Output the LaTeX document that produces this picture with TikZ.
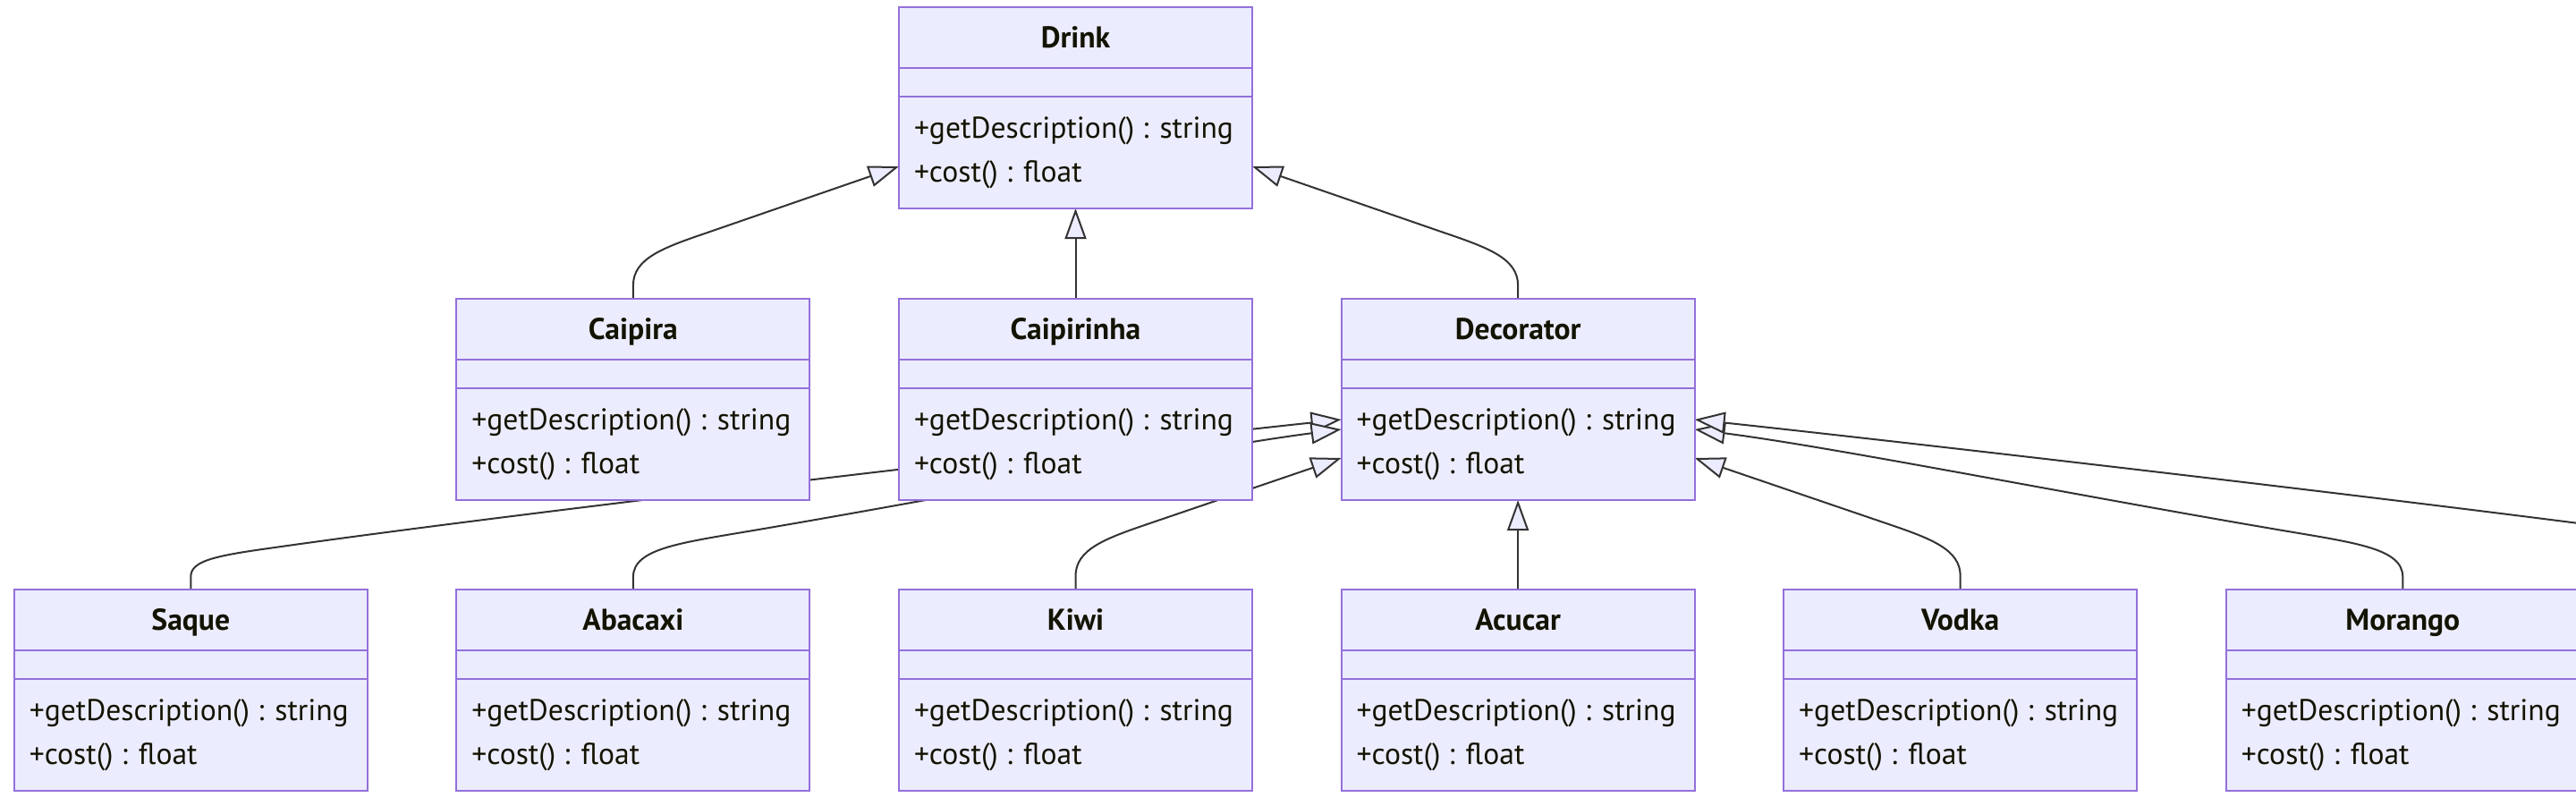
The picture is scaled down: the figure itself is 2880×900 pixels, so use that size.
\documentclass[tikz,border=0pt]{standalone}
\usepackage{fontspec}
\setmainfont{PT Sans}
\usetikzlibrary{arrows.meta,calc}
\definecolor{boxfill}{HTML}{ECECFF}
\definecolor{boxline}{HTML}{9370DB}
\definecolor{edgecol}{HTML}{333333}
\definecolor{txtcol}{HTML}{131300}
\pgfdeclarelayer{bottom}
\pgfdeclarelayer{background}
\pgfsetlayers{bottom,background,main}
\newlength\umlw
\newcommand\umlclass[4]{%
  \node[classbox, anchor=north west] (#1) at (#2,#3) {};
  \draw[divider] ($(#1.north west)+(0,68)$) -- ($(#1.north east)+(0,68)$);
  \draw[divider] ($(#1.north west)+(0,100)$) -- ($(#1.north east)+(0,100)$);
  \node[titletext, anchor=base] (#1-t) at ($(#1.north)+(0,45)$) {#4};
  \node[memtext, anchor=base west] (#1-m1) at ($(#1.north west)+(17,146.5)$) {+getDescription() : string};
  \node[memtext, anchor=base west] (#1-m2) at ($(#1.north west)+(17,195)$) {+cost() : float};
}
\begin{document}
\settowidth\umlw{\fontsize{32pt}{38pt}\selectfont +getDescription() : string}%
\pgfmathsetmacro\umlsize{32*357/\umlw}%
\begin{tikzpicture}[x=1pt,y=-1pt,
  classbox/.style={draw=boxline, fill=boxfill, line width=2pt, minimum width=395, minimum height=225, inner sep=0, outer sep=0},
  divider/.style={draw=boxline, line width=2pt},
  memtext/.style={font=\fontsize{\umlsize pt}{\umlsize pt}\selectfont, text=txtcol, inner sep=0, outer sep=0},
  titletext/.style={font=\fontsize{\umlsize pt}{\umlsize pt}\selectfont\bfseries, text=txtcol, inner sep=0, outer sep=0},
  edge/.style={draw=edgecol, line width=2pt, -{Triangle[length=34pt, width=24pt, fill=boxfill]}}
]
\clip (0,0) rectangle (2880,900);
\begin{pgfonlayer}{bottom}
\fill[white] (0,0) rectangle (2880,900);
\end{pgfonlayer}
% classes
\umlclass{drink}{1005}{8}{Drink}
\umlclass{caipira}{510.4}{334}{Caipira}
\umlclass{caipirinha}{1005}{334}{Caipirinha}
\umlclass{decorator}{1499.6}{334}{Decorator}
\umlclass{saque}{15.8}{659}{Saque}
\umlclass{abacaxi}{510.4}{659}{Abacaxi}
\umlclass{kiwi}{1005}{659}{Kiwi}
\umlclass{acucar}{1499.6}{659}{Acucar}
\umlclass{vodka}{1994.2}{659}{Vodka}
\umlclass{morango}{2488.8}{659}{Morango}
\coordinate (offcls) at (3179.3,659);
\begin{pgfonlayer}{background}
% to Drink
\draw[edge] (caipira.north) -- ($(caipira.north)+(0,-15)$)
  .. controls ($(caipira.north)+(0,-45)$) and ($(caipira.north)+(33,-57)$) .. ($(caipira.north)+(83,-74)$)
  -- ($(drink.north west)+(0,178)$);
\draw[edge] (caipirinha.north) -- (drink.south);
\draw[edge] (decorator.north) -- ($(decorator.north)+(0,-15)$)
  .. controls ($(decorator.north)+(0,-45)$) and ($(decorator.north)+(-33,-57)$) .. ($(decorator.north)+(-83,-74)$)
  -- ($(drink.north east)+(0,178)$);
% to Decorator, left side
\draw[edge] (saque.north) -- ($(saque.north)+(0,-14)$)
  .. controls ($(saque.north)+(0,-31)$) and ($(saque.north)+(22,-37)$) .. ($(saque.north)+(87,-46)$)
  .. controls ($(saque.north)+(387,-89)$) and ($(saque.north)+(1087,-169)$) .. ($(decorator.north west)+(0,135)$);
\draw[edge] (abacaxi.north) -- ($(abacaxi.north)+(0,-14)$)
  .. controls ($(abacaxi.north)+(0,-47)$) and ($(abacaxi.north)+(56,-52.5)$) .. ($(abacaxi.north)+(146,-68)$)
  .. controls ($(abacaxi.north)+(386,-109)$) and ($(abacaxi.north)+(636,-159)$) .. ($(decorator.north west)+(0,146)$);
\draw[edge] (kiwi.north) -- ($(kiwi.north)+(0,-15)$)
  .. controls ($(kiwi.north)+(0,-45)$) and ($(kiwi.north)+(33,-57)$) .. ($(kiwi.north)+(83,-74)$)
  -- ($(decorator.north west)+(0,178)$);
% to Decorator, bottom and right side
\draw[edge] (acucar.north) -- (decorator.south);
\draw[edge] (vodka.north) -- ($(vodka.north)+(0,-15)$)
  .. controls ($(vodka.north)+(0,-45)$) and ($(vodka.north)+(-33,-57)$) .. ($(vodka.north)+(-83,-74)$)
  -- ($(decorator.north east)+(0,178)$);
\draw[edge] (morango.north) -- ($(morango.north)+(0,-14)$)
  .. controls ($(morango.north)+(0,-47)$) and ($(morango.north)+(-56,-52.5)$) .. ($(morango.north)+(-146,-68)$)
  .. controls ($(morango.north)+(-386,-109)$) and ($(morango.north)+(-636,-159)$) .. ($(decorator.north east)+(0,146)$);
\draw[edge] (offcls) -- ($(offcls)+(0,-14)$)
  .. controls ($(offcls)+(0,-31)$) and ($(offcls)+(-22,-37)$) .. ($(offcls)+(-87,-46)$)
  .. controls ($(offcls)+(-387,-89)$) and ($(offcls)+(-1087,-169)$) .. ($(decorator.north east)+(0,135)$);
\end{pgfonlayer}
\end{tikzpicture}
\end{document}
